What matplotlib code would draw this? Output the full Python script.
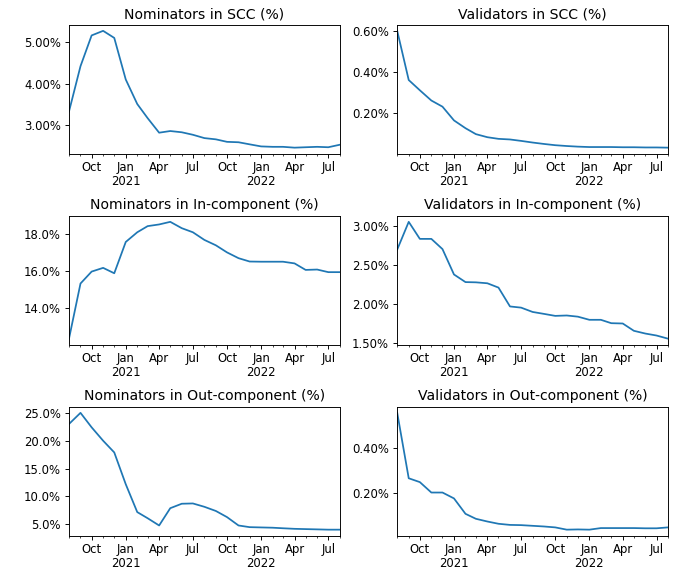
import matplotlib
matplotlib.use("Agg")
import matplotlib.pyplot as plt
import matplotlib.dates as mdates
from matplotlib.ticker import PercentFormatter, FuncFormatter, MultipleLocator
import datetime as dt

months = [dt.date(2020 + (7 + i) // 12, (7 + i) % 12 + 1, 1) for i in range(25)]

nom_scc = [3.33, 4.42, 5.16, 5.27, 5.10, 4.10, 3.51, 3.17, 2.82, 2.86, 2.83, 2.77, 2.69,
           2.66, 2.60, 2.59, 2.54, 2.49, 2.48, 2.48, 2.46, 2.47, 2.48, 2.47, 2.53]
val_scc = [0.60, 0.36, 0.31, 0.26, 0.23, 0.163, 0.125, 0.096, 0.081, 0.073, 0.070, 0.063, 0.055,
           0.048, 0.042, 0.038, 0.035, 0.033, 0.033, 0.033, 0.032, 0.032, 0.031, 0.031, 0.030]
nom_in = [12.36, 15.32, 15.96, 16.16, 15.87, 17.55, 18.07, 18.40, 18.49, 18.63, 18.29, 18.07, 17.66,
          17.37, 16.99, 16.68, 16.50, 16.49, 16.49, 16.49, 16.40, 16.05, 16.07, 15.93, 15.93]
val_in = [2.694, 3.047, 2.83, 2.83, 2.70, 2.377, 2.28, 2.277, 2.265, 2.21, 1.97, 1.955, 1.90,
          1.875, 1.85, 1.855, 1.84, 1.80, 1.80, 1.757, 1.753, 1.66, 1.625, 1.60, 1.56]
nom_out = [23.0, 25.0, 22.4, 20.0, 17.9, 12.2, 7.2, 6.1, 4.8, 7.9, 8.7, 8.75, 8.15,
           7.4, 6.3, 4.8, 4.5, 4.45, 4.4, 4.3, 4.2, 4.15, 4.1, 4.05, 4.05]
val_out = [0.555, 0.266, 0.249, 0.203, 0.203, 0.177, 0.109, 0.087, 0.075, 0.065, 0.060, 0.059, 0.056,
           0.053, 0.049, 0.039, 0.040, 0.039, 0.046, 0.046, 0.046, 0.046, 0.045, 0.045, 0.049]

titles = ["Nominators in SCC (%)", "Validators in SCC (%)",
          "Nominators in In-component (%)", "Validators in In-component (%)",
          "Nominators in Out-component (%)", "Validators in Out-component (%)"]
series = [nom_scc, val_scc, nom_in, val_in, nom_out, val_out]
decimals = [2, 2, 1, 2, 1, 2]
ysteps = [1.0, 0.2, 2.0, 0.5, 5.0, 0.2]

def month_fmt(x, pos):
    d = mdates.num2date(x)
    if d.month == 1:
        return d.strftime("%b") + "\n" + str(d.year)
    return d.strftime("%b")

DPI = 84
W, H = 673, 569
fig, axes = plt.subplots(3, 2, figsize=(W / DPI, H / DPI), dpi=DPI)
fig.subplots_adjust(left=69 / W, right=668 / W, top=1 - 25 / H, bottom=1 - 535.5 / H,
                    wspace=57.5 / 271, hspace=62.5 / 128.5)
for ax, t, s, dec, st in zip(axes.flat, titles, series, decimals, ysteps):
    ax.plot(months, s, color="#1f77b4", lw=1.5)
    ax.set_title(t)
    ax.set_xlim(months[0], months[-1])
    ax.xaxis.set_major_locator(mdates.MonthLocator(bymonth=[1, 4, 7, 10]))
    ax.xaxis.set_minor_locator(mdates.MonthLocator())
    ax.xaxis.set_major_formatter(FuncFormatter(month_fmt))
    ax.yaxis.set_major_locator(MultipleLocator(st))
    ax.yaxis.set_major_formatter(PercentFormatter(decimals=dec))
    ax.tick_params(axis="x", which="major", pad=3)
    for lbl in ax.get_xticklabels():
        lbl.set_rotation(0)
        lbl.set_ha("center")
        lbl.set_linespacing(1.1)

fig.savefig("out.png", dpi=DPI)
